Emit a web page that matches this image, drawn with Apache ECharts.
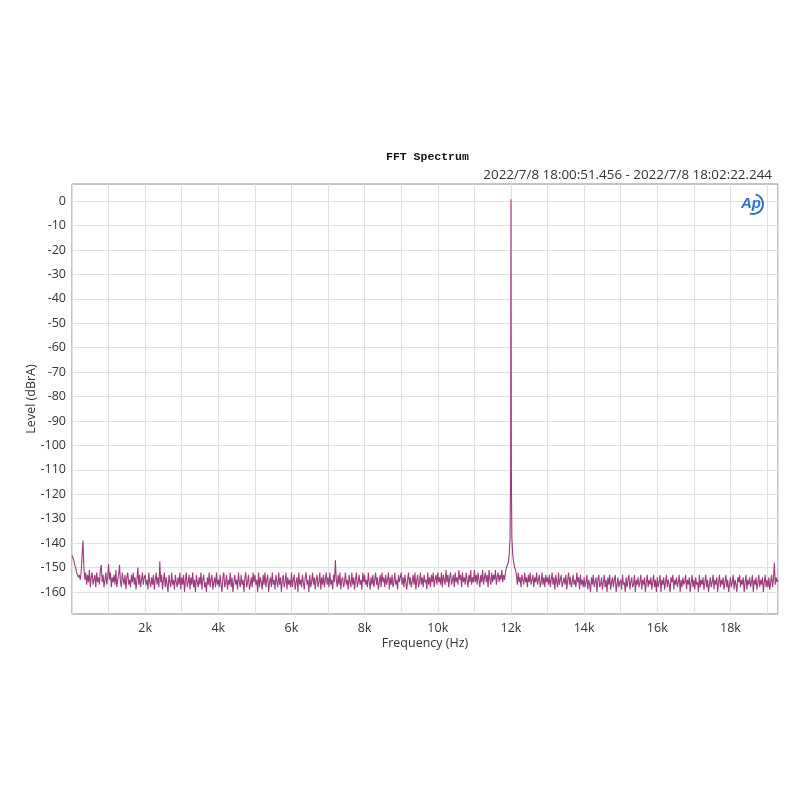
<!DOCTYPE html>
<html>
<head>
<meta charset="utf-8">
<script src="https://cdn.jsdelivr.net/npm/echarts@6/dist/echarts.min.js"></script>
<style>html,body{margin:0;padding:0;background:#fff}#c{width:800px;height:800px}</style>
</head>
<body>
<div id="c"></div>
<script>
// ---- data ----
var titleText = 'FFT Spectrum';
var subText = '2022/7/8 18:00:51.456 - 2022/7/8 18:02:22.244';
var xName = 'Frequency (Hz)';
var yName = 'Level (dBrA)';
var binWidth = 25; // Hz between readings
var xTickLabels = [2000, 4000, 6000, 8000, 10000, 12000, 14000, 16000, 18000];
var yTicks = [0, -10, -20, -30, -40, -50, -60, -70, -80, -90, -100, -110, -120, -130, -140, -150, -160];
// levels (dBrA), one reading per 25 Hz from 0 Hz to 19300 Hz (40 per kHz row)
var levels = [
 -145,-146,-147,-149,-150,-152,-153,-154,-153,-155,-152,-145,-139,-150,-155,-152,-157,-153,-156,-151,-158,-154,-152,-157,-155,-153,-158,-152,-156,-154,-157,-151,-149,-156,-153,-158,-155,-152,-157,-154,
 -148.5,-155,-152,-158,-154,-156,-153,-157,-151,-158,-155,-153,-149,-156,-158,-152,-155,-157,-153,-159,-154,-152,-157,-155,-158,-153,-156,-152,-157,-154,-159,-155,-150,-157,-153,-158,-155,-152,-157,-154,
 -153,-157,-155,-159,-152,-156,-158,-154,-157,-153,-159,-155,-152,-157,-154,-158,-147.5,-156,-153,-159,-155,-152,-158,-154,-157,-160,-153,-156,-158,-152,-157,-155,-159,-153,-156,-158,-154,-157,-152,-159,
 -154,-157,-153,-160,-155,-152,-158,-156,-153,-159,-154,-157,-152,-158,-155,-160,-153,-156,-158,-154,-157,-152,-159,-155,-153,-158,-156,-160,-154,-157,-152,-158,-155,-153,-159,-156,-154,-158,-152,-157,
 -155,-158,-153,-157,-160,-154,-152,-158,-156,-153,-159,-155,-157,-152,-158,-154,-160,-156,-153,-157,-155,-159,-152,-156,-158,-153,-157,-155,-160,-154,-152,-158,-156,-153,-159,-157,-154,-158,-152,-156,
 -153,-157,-155,-160,-152,-158,-154,-156,-159,-153,-157,-152,-158,-155,-153,-160,-156,-154,-158,-152,-157,-155,-159,-153,-156,-158,-152,-157,-154,-160,-155,-153,-158,-156,-152,-159,-154,-157,-155,-158,
 -152,-158,-155,-153,-159,-156,-154,-160,-152,-157,-155,-158,-153,-156,-159,-154,-152,-157,-155,-160,-153,-158,-156,-152,-157,-154,-159,-155,-153,-158,-156,-152,-159,-154,-157,-153,-158,-155,-152,-157,
 -154,-158,-152,-157,-155,-159,-153,-156,-147,-155,-158,-153,-157,-152,-159,-155,-154,-158,-156,-152,-157,-155,-159,-153,-156,-158,-152,-157,-154,-159,-155,-152,-158,-156,-153,-157,-155,-159,-152,-156,
 -153,-157,-155,-158,-152,-156,-159,-154,-157,-153,-158,-155,-152,-157,-154,-159,-156,-153,-158,-152,-156,-154,-158,-153,-157,-155,-152,-159,-154,-157,-153,-158,-156,-152,-157,-155,-159,-153,-156,-154,
 -152,-157,-154,-158,-153,-156,-159,-155,-152,-157,-154,-158,-156,-153,-157,-152,-159,-155,-153,-158,-156,-152,-157,-154,-158,-153,-156,-155,-159,-152,-157,-154,-158,-153,-156,-152,-158,-155,-153,-157,
 -152,-156,-154,-157,-152,-158,-153,-155,-157,-151,-156,-153,-158,-154,-152,-157,-155,-153,-158,-152,-156,-154,-157,-151,-155,-153,-158,-152,-156,-154,-157,-152,-155,-158,-153,-156,-151,-157,-154,-156,
 -151,-156,-153,-157,-152,-155,-158,-153,-156,-151,-157,-154,-152,-156,-153,-158,-151,-155,-157,-152,-156,-153,-155,-151,-157,-154,-152,-156,-153,-155,-151,-156,-153,-155,-152,-150,-150,-148,-145,-138,
 0.8,-138,-145,-148,-150,-151,-153,-157,-152,-156,-154,-158,-153,-155,-157,-152,-156,-154,-158,-153,-156,-152,-157,-155,-153,-158,-154,-156,-152,-157,-155,-153,-158,-156,-152,-157,-154,-158,-153,-156,
 -154,-157,-153,-158,-155,-152,-157,-154,-159,-153,-156,-158,-152,-157,-155,-153,-158,-156,-154,-157,-153,-159,-155,-152,-157,-154,-158,-156,-153,-157,-155,-158,-152,-156,-154,-159,-153,-157,-155,-158,
 -154,-158,-156,-153,-159,-155,-157,-160,-154,-157,-153,-158,-156,-154,-160,-155,-153,-158,-157,-154,-159,-156,-153,-158,-155,-160,-154,-157,-153,-159,-156,-154,-158,-155,-153,-160,-157,-154,-158,-156,
 -155,-159,-153,-157,-156,-160,-154,-158,-155,-153,-159,-156,-154,-158,-157,-153,-160,-155,-157,-154,-158,-156,-153,-159,-155,-157,-154,-160,-156,-153,-158,-155,-157,-154,-159,-156,-153,-158,-155,-160,
 -154,-158,-156,-153,-160,-155,-157,-154,-159,-156,-153,-158,-155,-157,-160,-154,-156,-153,-159,-155,-157,-154,-158,-156,-153,-160,-155,-158,-154,-157,-156,-153,-159,-155,-157,-154,-160,-156,-153,-158,
 -155,-159,-154,-157,-156,-160,-153,-158,-155,-157,-154,-159,-156,-153,-158,-155,-160,-157,-154,-158,-156,-153,-159,-155,-157,-154,-160,-156,-153,-158,-155,-157,-154,-159,-156,-153,-158,-155,-160,-157,
 -154,-158,-156,-153,-159,-155,-157,-160,-154,-156,-153,-158,-155,-157,-154,-160,-156,-153,-159,-155,-157,-154,-158,-156,-153,-160,-155,-157,-154,-159,-156,-153,-158,-155,-157,-154,-160,-156,-153,-158,
 -155,-158,-154,-159,-156,-153,-158,-155,-148,-157,-154,-156,-155
];
// extra readings on the 12 kHz tone skirt
var peakFreqs = [11990, 11995, 12005, 12010];
var peakLevels = [-110, -50, -50, -110];

// ---- build ----
var pts = [];
for (var i = 0; i < levels.length; i++) pts.push([i * binWidth, levels[i]]);
for (var j = 0; j < peakFreqs.length; j++) pts.push([peakFreqs[j], peakLevels[j]]);
pts.sort(function (a, b) { return a[0] - b[0]; });

var chart = echarts.init(document.getElementById('c'), null, {renderer: 'canvas'});
var labelFont = '"Open Sans", "Noto Sans", sans-serif';
chart.setOption({
  animation: false,
  backgroundColor: '#fff',
  title: [
    {text: titleText, left: 381, top: 146, textStyle: {fontFamily: '"Liberation Mono", monospace', fontSize: 11.5, fontWeight: 'bold', color: '#111'}},
    {text: subText, right: 23, top: 164, textStyle: {fontFamily: labelFont, fontSize: 13.4, fontWeight: 'normal', color: '#333'}}
  ],
  grid: {left: 72, right: 22, top: 184, bottom: 186, show: true, borderColor: '#8a8a8a', borderWidth: 1, backgroundColor: '#fff'},
  xAxis: {
    type: 'value', min: 0, max: 19300, interval: 1000,
    name: xName, nameLocation: 'middle', nameGap: 23, nameMoveOverlap: false,
    nameTextStyle: {fontFamily: labelFont, fontSize: 12.5, color: '#333'},
    axisLine: {show: false}, axisTick: {show: false},
    axisLabel: {
      margin: 8, fontFamily: labelFont, fontSize: 12.5, color: '#333',
      showMinLabel: false, showMaxLabel: false,
      formatter: function (v) { return xTickLabels.indexOf(v) >= 0 ? (v / 1000) + 'k' : ''; }
    },
    splitLine: {show: true, lineStyle: {color: '#e0e0e0', width: 1}}
  },
  yAxis: {
    type: 'value', min: -169, max: 7,
    name: yName, nameLocation: 'middle', nameGap: 34, nameMoveOverlap: false,
    nameTextStyle: {fontFamily: labelFont, fontSize: 12.5, color: '#333'},
    axisLine: {show: false},
    axisTick: {show: false, customValues: yTicks},
    axisLabel: {customValues: yTicks, margin: 6, fontFamily: labelFont, fontSize: 12.5, color: '#333'},
    splitLine: {show: true, lineStyle: {color: '#e0e0e0', width: 1}}
  },
  series: [{
    type: 'line', data: pts, showSymbol: false, symbol: 'none', sampling: null,
    lineStyle: {color: '#9e3a7e', width: 1.1}, clip: true, z: 3
  }],
  graphic: [
    {type: 'arc', shape: {cx: 753, cy: 204, r: 10, startAngle: -1.3, endAngle: 1.9}, style: {stroke: '#2f74c8', lineWidth: 2, fill: null}, z: 10},
    {type: 'text', x: 741, y: 196, style: {text: 'Ap', font: 'italic bold 15px "Liberation Sans", sans-serif', fill: '#2f74c8'}, z: 11}
  ]
});
</script>
</body>
</html>
